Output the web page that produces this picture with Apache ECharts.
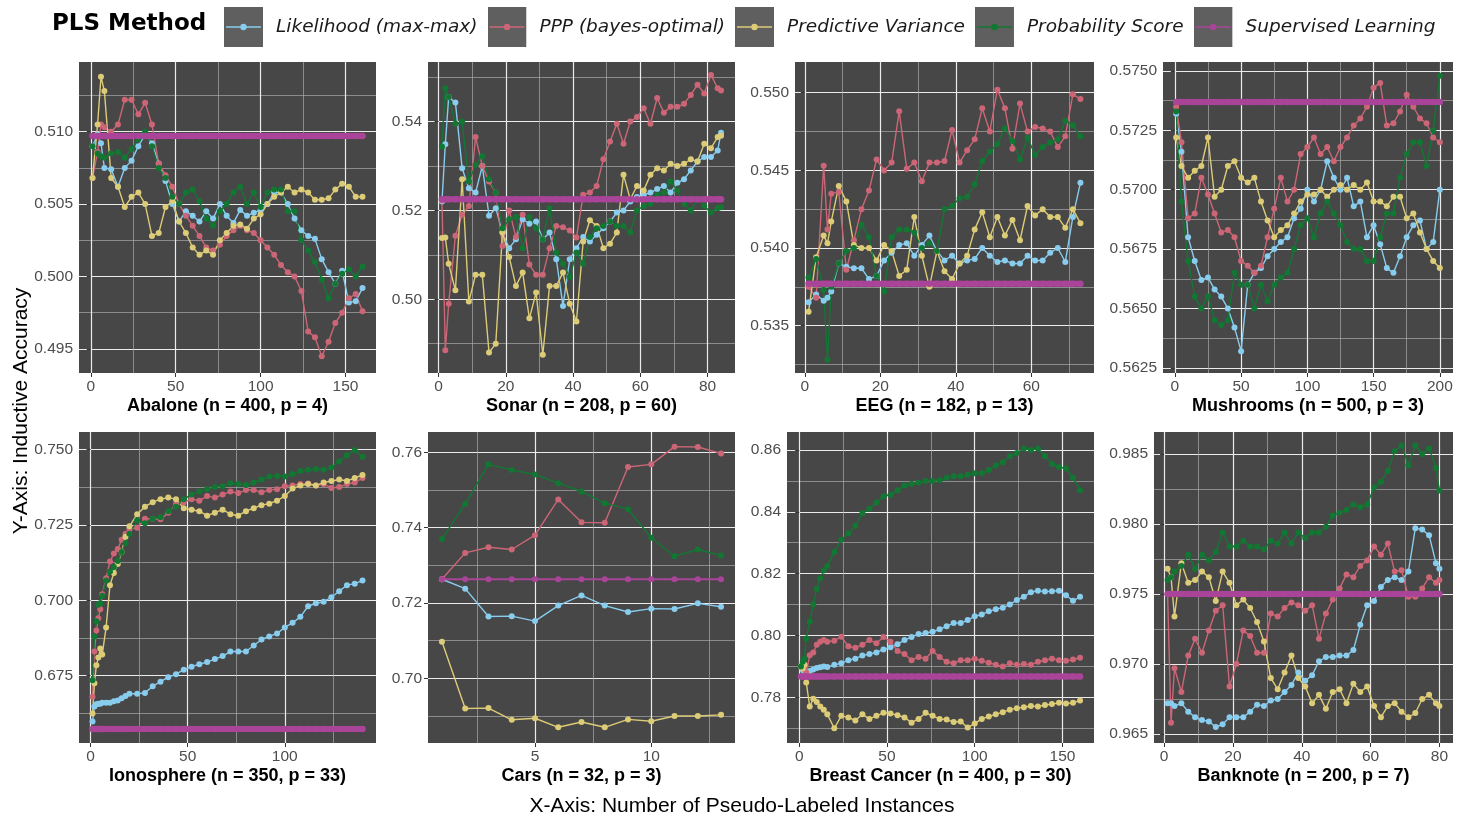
<!DOCTYPE html>
<html>
<head>
<meta charset="utf-8">
<script src="https://cdn.jsdelivr.net/npm/echarts@6/dist/echarts.min.js"></script>
<style>
  html, body { margin: 0; padding: 0; background: #fff; }
  #main { width: 1460px; height: 819px; }
</style>
</head>
<body>
<div id="main"></div>
<script>
var methods = ['Likelihood (max-max)', 'PPP (bayes-optimal)', 'Predictive Variance', 'Probability Score', 'Supervised Learning'];
var colors = ['#88CCEE', '#CC6677', '#DDCC77', '#117733', '#AA4499'];

// Abalone
var xAbalone = [1,4,6,8,12,16,20,24,28,32,36,40,44,48,52,56,60,64,68,72,76,80,84,88,92,96,100,104,108,112,116,120,124,128,132,136,140,144,148,152,156,160];
var likAbalone = [0.5090,0.5098,0.5092,0.5075,0.5074,0.5062,0.5075,0.5080,0.5090,0.5098,0.5092,0.5078,0.5066,0.5050,0.5038,0.5045,0.5042,0.5038,0.5045,0.5040,0.5050,0.5042,0.5037,0.5046,0.5042,0.5044,0.5046,0.5050,0.5058,0.5058,0.5050,0.5040,0.5032,0.5028,0.5026,0.5012,0.5003,0.4995,0.5004,0.4982,0.4983,0.4992];
var pppAbalone = [0.5068,0.5086,0.5105,0.5103,0.5100,0.5105,0.5122,0.5122,0.5112,0.5120,0.5105,0.5078,0.5070,0.5062,0.5050,0.5042,0.5035,0.5028,0.5020,0.5018,0.5022,0.5028,0.5032,0.5035,0.5032,0.5030,0.5025,0.5020,0.5015,0.5008,0.5003,0.5000,0.4990,0.4962,0.4958,0.4945,0.4955,0.4968,0.4975,0.4985,0.4988,0.4976];
var pvAbalone = [0.5068,0.5105,0.5138,0.5128,0.5068,0.5062,0.5048,0.5055,0.5058,0.5050,0.5028,0.5030,0.5048,0.5052,0.5038,0.5030,0.5020,0.5015,0.5018,0.5015,0.5025,0.5030,0.5035,0.5036,0.5033,0.5040,0.5043,0.5050,0.5055,0.5058,0.5062,0.5058,0.5060,0.5058,0.5053,0.5053,0.5054,0.5060,0.5064,0.5062,0.5055,0.5055];
var psAbalone = [0.5090,0.5085,0.5083,0.5082,0.5085,0.5086,0.5082,0.5088,0.5095,0.5100,0.5090,0.5075,0.5068,0.5055,0.5050,0.5058,0.5060,0.5052,0.5040,0.5035,0.5045,0.5050,0.5058,0.5062,0.5050,0.5058,0.5048,0.5058,0.5060,0.5060,0.5045,0.5045,0.5025,0.5018,0.5010,0.4998,0.4985,0.4995,0.5002,0.5005,0.5000,0.5007];
var supAbalone = 0.5097;

// Sonar
var xSonar = [1,2,3,5,7,9,11,13,15,17,19,21,23,25,27,29,31,33,35,37,39,41,43,45,47,49,51,53,55,57,59,61,63,65,67,69,71,73,75,77,79,81,83,84];
var likSonar = [0.5220,0.5349,0.5455,0.5443,0.5295,0.5250,0.5240,0.5300,0.5188,0.5205,0.5150,0.5115,0.5135,0.5180,0.5170,0.5175,0.5135,0.5150,0.5090,0.4985,0.5090,0.5115,0.5140,0.5130,0.5145,0.5160,0.5175,0.5195,0.5200,0.5220,0.5230,0.5235,0.5240,0.5248,0.5255,0.5240,0.5262,0.5270,0.5290,0.5310,0.5320,0.5320,0.5335,0.5375];
var pppSonar = [0.5222,0.4885,0.4990,0.5143,0.5190,0.5210,0.5365,0.5300,0.5265,0.5240,0.5120,0.5200,0.5140,0.5190,0.5078,0.5055,0.5055,0.5115,0.5165,0.5162,0.5155,0.5139,0.5235,0.5240,0.5255,0.5315,0.5355,0.5395,0.5350,0.5400,0.5410,0.5430,0.5395,0.5453,0.5420,0.5433,0.5433,0.5440,0.5460,0.5483,0.5463,0.5505,0.5475,0.5470];
var pvSonar = [0.5138,0.5139,0.5080,0.5020,0.5270,0.4995,0.5055,0.5055,0.4880,0.4900,0.5150,0.5095,0.5030,0.5060,0.4957,0.5015,0.4875,0.5030,0.5030,0.5060,0.4990,0.4950,0.5130,0.5178,0.5165,0.5115,0.5125,0.5150,0.5280,0.5225,0.5255,0.5245,0.5280,0.5295,0.5290,0.5305,0.5300,0.5305,0.5315,0.5310,0.5350,0.5340,0.5365,0.5368];
var psSonar = [0.5344,0.5475,0.5455,0.5395,0.5400,0.5265,0.5302,0.5322,0.5270,0.5240,0.5160,0.5180,0.5185,0.5115,0.5185,0.5160,0.5135,0.5205,0.5105,0.5080,0.5050,0.5105,0.5080,0.5140,0.5160,0.5165,0.5175,0.5165,0.5165,0.5150,0.5200,0.5210,0.5215,0.5235,0.5240,0.5265,0.5245,0.5215,0.5200,0.5225,0.5210,0.5195,0.5205,0.5207];
var supSonar = 0.5225;

// EEG
var xEEG = [1,3,5,6,7,9,11,13,15,17,19,21,23,25,27,29,31,33,35,37,39,41,43,45,47,49,51,53,55,57,59,61,63,65,67,69,71,73];
var likEEG = [0.5365,0.5370,0.5366,0.5368,0.5372,0.5390,0.5388,0.5387,0.5387,0.5380,0.5382,0.5392,0.5397,0.5402,0.5403,0.5395,0.5402,0.5408,0.5398,0.5392,0.5395,0.5390,0.5392,0.5393,0.5400,0.5395,0.5391,0.5392,0.5390,0.5390,0.5395,0.5392,0.5392,0.5397,0.5400,0.5391,0.5420,0.5442];
var pppEEG = [0.5375,0.5368,0.5453,0.5412,0.5435,0.5436,0.5386,0.5405,0.5425,0.5437,0.5457,0.5450,0.5455,0.5488,0.5451,0.5455,0.5443,0.5455,0.5455,0.5456,0.5476,0.5455,0.5463,0.5470,0.5490,0.5475,0.5502,0.5490,0.5464,0.5493,0.5475,0.5478,0.5477,0.5475,0.5465,0.5472,0.5499,0.5496];
var pvEEG = [0.5359,0.5394,0.5408,0.5403,0.5417,0.5440,0.5430,0.5402,0.5400,0.5400,0.5392,0.5402,0.5398,0.5382,0.5386,0.5420,0.5395,0.5375,0.5398,0.5385,0.5380,0.5390,0.5395,0.5412,0.5423,0.5407,0.5420,0.5408,0.5418,0.5405,0.5427,0.5421,0.5425,0.5420,0.5420,0.5413,0.5425,0.5416];
var psEEG = [0.5381,0.5393,0.5373,0.5328,0.5375,0.5390,0.5398,0.5400,0.5415,0.5407,0.5382,0.5372,0.5407,0.5412,0.5412,0.5410,0.5400,0.5403,0.5398,0.5425,0.5427,0.5432,0.5433,0.5441,0.5456,0.5462,0.5467,0.5477,0.5469,0.5457,0.5471,0.5460,0.5465,0.5468,0.5470,0.5482,0.5479,0.5472];
var supEEG = 0.5377;

// Mushrooms
var xMushrooms = [1,5,10,15,20,25,30,35,40,45,50,55,60,65,70,75,80,85,90,95,100,105,110,115,120,125,130,135,140,145,150,155,160,165,170,175,180,185,190,195,200];
var likMushrooms = [0.5732,0.5716,0.5680,0.5670,0.5662,0.5663,0.5658,0.5655,0.5650,0.5642,0.5632,0.5660,0.5665,0.5667,0.5672,0.5675,0.5678,0.5680,0.5688,0.5692,0.5700,0.5695,0.5700,0.5712,0.5705,0.5700,0.5705,0.5693,0.5695,0.5680,0.5685,0.5677,0.5667,0.5665,0.5672,0.5680,0.5685,0.5687,0.5675,0.5678,0.5700];
var pppMushrooms = [0.5735,0.5720,0.5688,0.5690,0.5705,0.5698,0.5690,0.5682,0.5683,0.5680,0.5670,0.5668,0.5665,0.5668,0.5680,0.5692,0.5705,0.5695,0.5700,0.5715,0.5718,0.5722,0.5715,0.5718,0.5712,0.5718,0.5722,0.5727,0.5730,0.5735,0.5743,0.5745,0.5727,0.5728,0.5733,0.5740,0.5735,0.5730,0.5728,0.5722,0.5720];
var pvMushrooms = [0.5722,0.5710,0.5705,0.5708,0.5710,0.5722,0.5697,0.5700,0.5710,0.5712,0.5705,0.5703,0.5705,0.5695,0.5687,0.5680,0.5683,0.5685,0.5690,0.5695,0.5698,0.5698,0.5700,0.5697,0.5700,0.5702,0.5700,0.5702,0.5700,0.5703,0.5695,0.5695,0.5693,0.5697,0.5697,0.5688,0.5690,0.5682,0.5675,0.5670,0.5667];
var psMushrooms = [0.5733,0.5695,0.5670,0.5655,0.5650,0.5655,0.5645,0.5643,0.5645,0.5665,0.5660,0.5660,0.5650,0.5660,0.5653,0.5660,0.5663,0.5665,0.5675,0.5685,0.5688,0.5680,0.5690,0.5695,0.5690,0.5685,0.5678,0.5675,0.5675,0.5670,0.5670,0.5680,0.5690,0.5690,0.5705,0.5715,0.5720,0.5720,0.5710,0.5725,0.5748];
var supMushrooms = 0.5737;

// Ionosphere
var xIonosphere = [1,2,3,4,5,6,8,10,12,14,16,18,20,24,28,32,36,40,44,48,52,56,60,64,68,72,76,80,84,88,92,96,100,104,108,112,116,120,124,128,132,136,140];
var likIonosphere = [0.6598,0.6648,0.6655,0.6657,0.6657,0.6660,0.6660,0.6660,0.6665,0.6668,0.6675,0.6683,0.6690,0.6690,0.6693,0.6715,0.6730,0.6745,0.6755,0.6770,0.6780,0.6788,0.6795,0.6805,0.6815,0.6830,0.6830,0.6830,0.6850,0.6870,0.6880,0.6890,0.6910,0.6925,0.6945,0.6980,0.6990,0.6995,0.7010,0.7030,0.7050,0.7055,0.7065];
var pppIonosphere = [0.6680,0.6830,0.6900,0.6940,0.6970,0.7020,0.7073,0.7128,0.7155,0.7170,0.7200,0.7220,0.7235,0.7240,0.7270,0.7270,0.7268,0.7290,0.7318,0.7325,0.7335,0.7330,0.7345,0.7340,0.7350,0.7360,0.7355,0.7365,0.7365,0.7358,0.7365,0.7368,0.7378,0.7380,0.7385,0.7387,0.7380,0.7385,0.7372,0.7375,0.7385,0.7390,0.7405];
var pvIonosphere = [0.6625,0.6725,0.6785,0.6810,0.6840,0.6820,0.6910,0.7050,0.7090,0.7120,0.7160,0.7210,0.7245,0.7285,0.7310,0.7325,0.7335,0.7340,0.7335,0.7305,0.7300,0.7295,0.7280,0.7290,0.7300,0.7285,0.7280,0.7295,0.7305,0.7315,0.7320,0.7330,0.7345,0.7370,0.7380,0.7385,0.7380,0.7390,0.7395,0.7400,0.7395,0.7405,0.7415];
var psIonosphere = [0.6735,0.6880,0.6930,0.6985,0.6990,0.7015,0.7065,0.7095,0.7110,0.7130,0.7160,0.7190,0.7220,0.7265,0.7255,0.7270,0.7275,0.7295,0.7310,0.7335,0.7350,0.7360,0.7368,0.7375,0.7378,0.7388,0.7385,0.7382,0.7390,0.7400,0.7410,0.7412,0.7410,0.7418,0.7428,0.7432,0.7435,0.7432,0.7440,0.7460,0.7480,0.7498,0.7475];
var supIonosphere = 0.6573;

// Cars
var xCars = [1,2,3,4,5,6,7,8,9,10,11,12,13];
var likCars = [0.7263,0.7238,0.7164,0.7165,0.7152,0.7193,0.7220,0.7193,0.7176,0.7185,0.7184,0.7199,0.7190];
var pppCars = [0.7263,0.7333,0.7348,0.7342,0.7380,0.7475,0.7414,0.7413,0.7561,0.7568,0.7615,0.7614,0.7597];
var pvCars = [0.7097,0.6920,0.6921,0.6890,0.6894,0.6870,0.6884,0.6870,0.6891,0.6886,0.6900,0.6900,0.6903];
var psCars = [0.7370,0.7463,0.7568,0.7553,0.7541,0.7518,0.7496,0.7465,0.7449,0.7373,0.7324,0.7342,0.7326];
var supCars = 0.7263;

// Breast Cancer
var xBreast = [1,2,3,4,6,8,10,12,14,16,20,24,28,32,36,40,44,48,52,56,60,64,68,72,76,80,84,88,92,96,100,104,108,112,116,120,124,128,132,136,140,144,148,152,156,160];
var likBreast = [0.7900,0.7888,0.7880,0.7875,0.7885,0.7890,0.7895,0.7897,0.7900,0.7898,0.7905,0.7910,0.7920,0.7925,0.7935,0.7940,0.7945,0.7955,0.7962,0.7972,0.7985,0.7995,0.8005,0.8008,0.8012,0.8020,0.8030,0.8040,0.8040,0.8050,0.8062,0.8068,0.8078,0.8085,0.8090,0.8100,0.8115,0.8125,0.8140,0.8145,0.8142,0.8143,0.8145,0.8130,0.8112,0.8125];
var pppBreast = [0.7900,0.7895,0.7890,0.7880,0.7936,0.7945,0.7970,0.7980,0.7985,0.7980,0.7983,0.7996,0.7965,0.7960,0.7970,0.7985,0.7975,0.7995,0.7980,0.7950,0.7940,0.7920,0.7930,0.7925,0.7950,0.7930,0.7915,0.7910,0.7920,0.7920,0.7925,0.7918,0.7912,0.7905,0.7900,0.7910,0.7905,0.7908,0.7905,0.7915,0.7920,0.7925,0.7920,0.7918,0.7922,0.7928];
var pvBreast = [0.7900,0.7893,0.7905,0.7848,0.7770,0.7795,0.7785,0.7770,0.7760,0.7745,0.7700,0.7740,0.7735,0.7725,0.7745,0.7730,0.7740,0.7750,0.7748,0.7742,0.7735,0.7718,0.7730,0.7750,0.7740,0.7730,0.7728,0.7720,0.7722,0.7702,0.7715,0.7730,0.7738,0.7745,0.7752,0.7760,0.7765,0.7768,0.7772,0.7770,0.7775,0.7778,0.7782,0.7780,0.7782,0.7790];
var psBreast = [0.7900,0.7915,0.7925,0.7990,0.8045,0.8100,0.8150,0.8185,0.8210,0.8225,0.8270,0.8310,0.8330,0.8355,0.8395,0.8410,0.8430,0.8450,0.8455,0.8470,0.8485,0.8490,0.8495,0.8500,0.8500,0.8502,0.8510,0.8515,0.8515,0.8520,0.8525,0.8525,0.8535,0.8550,0.8560,0.8580,0.8590,0.8605,0.8600,0.8605,0.8580,0.8555,0.8545,0.8540,0.8510,0.8470];
var supBreast = 0.7867;

// Banknote
var xBanknote = [1,2,3,5,7,9,11,13,15,17,19,21,23,25,27,29,31,33,35,37,39,41,43,45,47,49,51,53,55,57,59,61,63,65,67,69,71,73,75,77,79,80];
var likBanknote = [0.9672,0.9672,0.9670,0.9672,0.9666,0.9662,0.9660,0.9659,0.9655,0.9657,0.9662,0.9662,0.9662,0.9666,0.9671,0.9670,0.9674,0.9675,0.9680,0.9685,0.9694,0.9688,0.9692,0.9702,0.9705,0.9705,0.9706,0.9706,0.9710,0.9728,0.9742,0.9745,0.9755,0.9760,0.9762,0.9760,0.9766,0.9797,0.9796,0.9792,0.9772,0.9768];
var pppBanknote = [0.9750,0.9658,0.9697,0.9680,0.9706,0.9718,0.9708,0.9724,0.9738,0.9742,0.9684,0.9700,0.9724,0.9720,0.9708,0.9708,0.9736,0.9734,0.9740,0.9744,0.9742,0.9738,0.9742,0.9718,0.9736,0.9746,0.9754,0.9764,0.9762,0.9770,0.9774,0.9784,0.9778,0.9786,0.9766,0.9767,0.9748,0.9748,0.9754,0.9762,0.9758,0.9760];
var pvBanknote = [0.9768,0.9762,0.9734,0.9772,0.9758,0.9760,0.9766,0.9762,0.9745,0.9766,0.9758,0.9742,0.9746,0.9740,0.9730,0.9716,0.9690,0.9682,0.9694,0.9706,0.9690,0.9684,0.9672,0.9678,0.9668,0.9680,0.9682,0.9672,0.9686,0.9680,0.9684,0.9670,0.9662,0.9670,0.9672,0.9666,0.9662,0.9665,0.9675,0.9678,0.9672,0.9670];
var psBanknote = [0.9760,0.9762,0.9766,0.9770,0.9778,0.9768,0.9778,0.9774,0.9780,0.9794,0.9784,0.9784,0.9788,0.9784,0.9784,0.9782,0.9788,0.9786,0.9794,0.9786,0.9794,0.9790,0.9794,0.9794,0.9798,0.9806,0.9808,0.9810,0.9814,0.9812,0.9814,0.9826,0.9830,0.9838,0.9852,0.9856,0.9842,0.9856,0.9850,0.9854,0.9840,0.9824];
var supBanknote = 0.9750;

// axis ticks and y limits
var xTicks = [[0,50,100,150],[0,20,40,60,80],[0,20,40,60],[0,50,100,150,200],[0,50,100],[5,10],[0,50,100,150],[0,20,40,60,80]];
var yTicks = [
  [0.495,0.500,0.505,0.510],
  [0.50,0.52,0.54],
  [0.535,0.540,0.545,0.550],
  [0.5625,0.5650,0.5675,0.5700,0.5725,0.5750],
  [0.675,0.700,0.725,0.750],
  [0.70,0.72,0.74,0.76],
  [0.78,0.80,0.82,0.84,0.86],
  [0.965,0.970,0.975,0.980,0.985]
];
var yDecimals = [3,2,3,4,3,2,2,3];
var yLimits = [[0.49334,0.51481],[0.4834,0.5534],[0.53195,0.55198],[0.56228,0.57538],[0.6527,0.75574],[0.68283,0.76539],[0.76522,0.86582],[0.96436,0.98657]];
var titles = ['Abalone (n = 400, p = 4)','Sonar (n = 208, p = 60)','EEG (n = 182, p = 13)','Mushrooms (n = 500, p = 3)',
  'Ionosphere (n = 350, p = 33)','Cars (n = 32, p = 3)','Breast Cancer (n = 400, p = 30)','Banknote (n = 200, p = 7)'];

var panelX = [xAbalone, xSonar, xEEG, xMushrooms, xIonosphere, xCars, xBreast, xBanknote];
var panelY = [
  [likAbalone, pppAbalone, pvAbalone, psAbalone],
  [likSonar, pppSonar, pvSonar, psSonar],
  [likEEG, pppEEG, pvEEG, psEEG],
  [likMushrooms, pppMushrooms, pvMushrooms, psMushrooms],
  [likIonosphere, pppIonosphere, pvIonosphere, psIonosphere],
  [likCars, pppCars, pvCars, psCars],
  [likBreast, pppBreast, pvBreast, psBreast],
  [likBanknote, pppBanknote, pvBanknote, psBanknote]
];
var panelSup = [supAbalone, supSonar, supEEG, supMushrooms, supIonosphere, supCars, supBreast, supBanknote];

// panel layout (px)
var gridLeft = [79, 428, 795, 1163, 79, 428, 787, 1154];
var gridRight = [376, 735, 1094, 1453, 376, 735, 1094, 1453];
var gridTop = [62, 62, 62, 62, 432, 432, 432, 432];
var gridHeight = 311;

var tickFont = 'Liberation Sans, Arial, sans-serif';

function keyIcon(c) {
  var svg = "<svg xmlns='http://www.w3.org/2000/svg' width='39' height='40'>" +
    "<rect width='39' height='40' fill='#5f5f5f'/>" +
    "<line x1='2' y1='20' x2='37' y2='20' stroke='" + c + "' stroke-width='1.6'/>" +
    "<circle cx='19.5' cy='20' r='3.2' fill='" + c + "'/></svg>";
  return 'image://data:image/svg+xml;charset=utf-8,' + encodeURIComponent(svg);
}

var grids = [], xAxes = [], yAxes = [], series = [];

panelX.forEach(function (xs, i) {
  var x0 = xs[0], x1 = xs[xs.length - 1], pad = (x1 - x0) * 0.05;
  var dx = xTicks[i][1] - xTicks[i][0];
  var dy = yTicks[i][1] - yTicks[i][0];
  var dec = yDecimals[i];

  grids.push({
    left: gridLeft[i], top: gridTop[i], width: gridRight[i] - gridLeft[i], height: gridHeight,
    show: true, backgroundColor: '#474747', borderWidth: 0
  });

  xAxes.push({
    gridIndex: i, type: 'value', min: x0 - pad, max: x1 + pad,
    minInterval: dx, maxInterval: dx,
    axisLine: {show: false},
    axisTick: {show: true, length: 4, customValues: xTicks[i], lineStyle: {color: '#333', width: 1}},
    axisLabel: {customValues: xTicks[i], color: '#4d4d4d', fontSize: 15.5, fontFamily: tickFont, margin: 6},
    splitLine: {show: true, lineStyle: {color: '#ebebeb', width: 1.2}},
    minorTick: {show: false, splitNumber: 2},
    minorSplitLine: {show: true, lineStyle: {color: '#a9a9a9', width: 0.7}},
    name: titles[i], nameLocation: 'middle', nameGap: 24,
    nameTextStyle: {color: '#000', fontSize: 18, fontWeight: 'bold', fontFamily: tickFont}
  });

  yAxes.push({
    gridIndex: i, type: 'value', min: yLimits[i][0], max: yLimits[i][1],
    minInterval: dy, maxInterval: dy,
    axisLine: {show: false},
    axisTick: {show: true, length: 4, customValues: yTicks[i], lineStyle: {color: '#333', width: 1}},
    axisLabel: {customValues: yTicks[i], color: '#4d4d4d', fontSize: 15.5, fontFamily: tickFont, margin: 6,
      formatter: function (v) { return v.toFixed(dec); }},
    splitLine: {show: true, lineStyle: {color: '#ebebeb', width: 1.2}},
    minorTick: {show: false, splitNumber: 2},
    minorSplitLine: {show: true, lineStyle: {color: '#a9a9a9', width: 0.7}}
  });

  panelY[i].forEach(function (vals, k) {
    series.push({
      name: methods[k], type: 'line', xAxisIndex: i, yAxisIndex: i,
      data: xs.map(function (x, j) { return [x, vals[j]]; }),
      symbol: 'circle', symbolSize: 6, showSymbol: true,
      lineStyle: {color: colors[k], width: 1.4},
      itemStyle: {color: colors[k]},
      emphasis: {disabled: true}, silent: true
    });
  });

  var dense = xs.length > 20;
  series.push({
    name: methods[4], type: 'line', xAxisIndex: i, yAxisIndex: i,
    data: xs.map(function (x) { return [x, panelSup[i]]; }),
    symbol: 'circle', symbolSize: dense ? 6.5 : 6, showSymbol: true,
    lineStyle: {color: colors[4], width: dense ? 6 : 1.8},
    itemStyle: {color: colors[4]},
    emphasis: {disabled: true}, silent: true
  });
});

var chart = echarts.init(document.getElementById('main'), null, {renderer: 'canvas'});
chart.setOption({
  animation: false,
  backgroundColor: '#ffffff',
  title: {
    text: 'PLS Method', left: 52, top: 13, padding: 0,
    textStyle: {fontFamily: 'DejaVu Sans', fontWeight: 'bold', fontSize: 23, color: '#000'}
  },
  legend: {
    left: 224, top: 7, itemWidth: 39, itemHeight: 40, itemGap: 10, padding: 0,
    selectedMode: false,
    data: methods.map(function (m, k) { return {name: m, icon: keyIcon(colors[k])}; }),
    textStyle: {fontFamily: 'DejaVu Sans', fontStyle: 'italic', fontSize: 18.5, color: '#1a1a1a', padding: [0, 0, 0, 8]}
  },
  grid: grids,
  xAxis: xAxes,
  yAxis: yAxes,
  series: series,
  graphic: [
    {type: 'text', x: 742, y: 806, silent: true,
      style: {text: 'X-Axis: Number of Pseudo-Labeled Instances', fontSize: 21, fontFamily: tickFont, fill: '#000', align: 'center', verticalAlign: 'middle'}},
    {type: 'text', x: 21, y: 411, rotation: Math.PI / 2, silent: true,
      style: {text: 'Y-Axis: Inductive Accuracy', fontSize: 21, fontFamily: tickFont, fill: '#000', align: 'center', verticalAlign: 'middle'}}
  ]
});
</script>
</body>
</html>
